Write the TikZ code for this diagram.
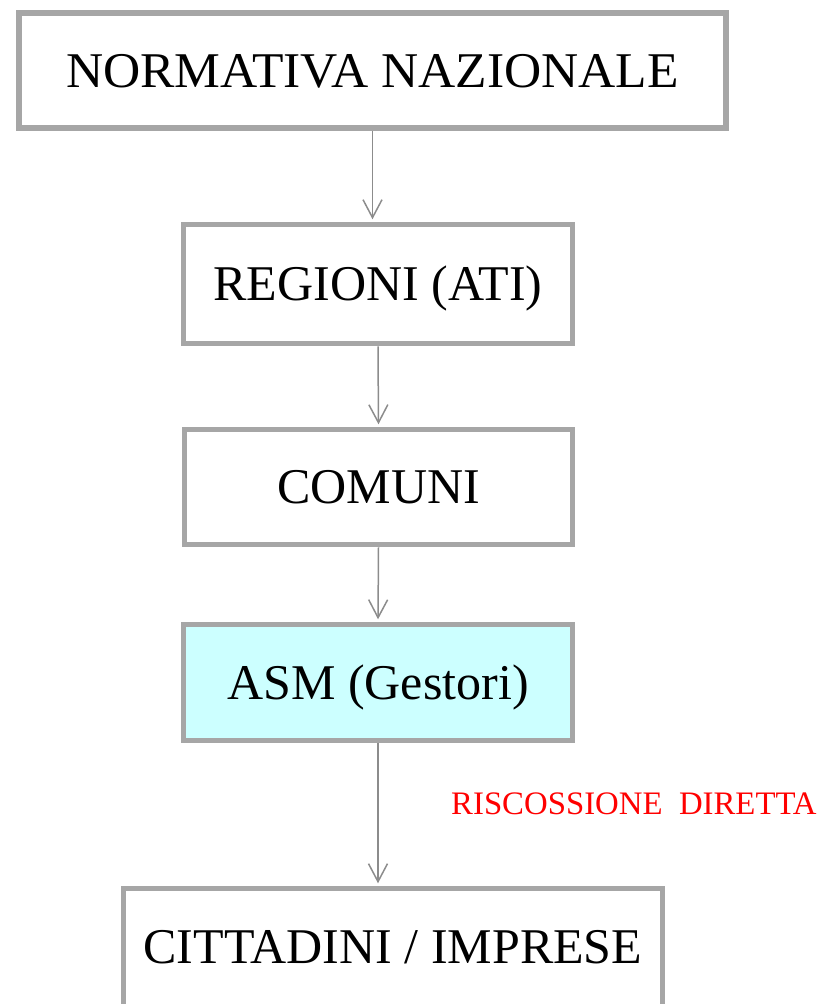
\documentclass[tikz,border=0pt]{standalone}
\usepackage{fontspec}
\setmainfont{Liberation Serif}
\usetikzlibrary{arrows.meta}
\definecolor{boxgray}{HTML}{A6A6A6}
\definecolor{linegray}{HTML}{8C8C8C}
\definecolor{asmcyan}{HTML}{CCFFFF}
\begin{document}
\begin{tikzpicture}[x=1bp,y=-1bp,
  levelbox/.style={draw=boxgray, line width=5.5bp, fill=white, rectangle,
    inner sep=0pt, text height=33.1bp, text depth=0bp,
    font=\fontsize{50bp}{60bp}\selectfont},
  flowarrow/.style={draw=linegray, line width=1.5bp,
    -{Straight Barb[length=18bp,width=19bp,line width=1.5bp]}, shorten >=2.5bp}
]
\useasboundingbox (0,0) rectangle (817,1004);
\node[levelbox, minimum width=707bp, minimum height=115bp] (nat) at (372.5,70.5) {\scalebox{1.03}[1]{NORMATIVA NAZIONALE}};
\node[levelbox, minimum width=389bp, minimum height=119bp] (reg) at (378,284) {REGIONI (ATI)};
\node[levelbox, minimum width=388bp, minimum height=115bp] (com) at (378.5,487) {COMUNI};
\node[levelbox, fill=asmcyan, minimum width=389bp, minimum height=116bp] (asm) at (378,682.5) {ASM (Gestori)};
\node[levelbox, text depth=13bp, minimum width=539bp, minimum height=130bp] (cit) at (393,953.5) {CITTADINI / IMPRESE};
\node[anchor=base west, inner sep=0pt, text=red, font=\fontsize{32.8bp}{38bp}\selectfont] (risc) at (451,814) {RISCOSSIONE\ \ DIRETTA};
\draw[flowarrow] (nat.south) -- (nat.south |- reg.north);
\draw[flowarrow] (reg.south) -- (com.north);
\draw[flowarrow] (com.south) -- (asm.north);
\draw[flowarrow] (asm.south) -- (asm.south |- cit.north);
\end{tikzpicture}
\end{document}
